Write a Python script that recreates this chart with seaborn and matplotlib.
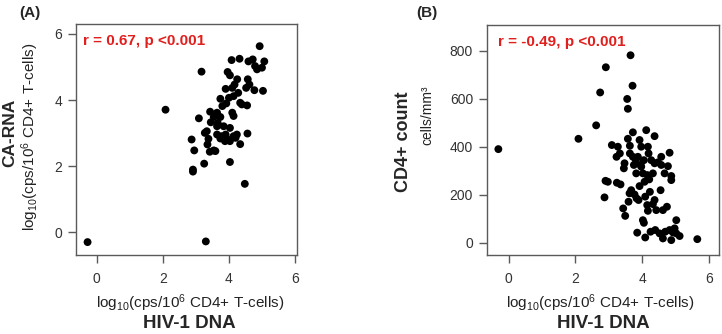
import matplotlib
matplotlib.use("Agg")
import matplotlib.pyplot as plt
import seaborn as sns
import pandas as pd

# Panel A: HIV-1 DNA vs CA-RNA
a_dna = [-0.28, 3.30, 2.08, 3.17, 4.48, 4.93, 2.87, 2.95, 2.91, 2.91, 3.25, 3.09, 4.03, 4.56,
         4.34, 4.08, 4.32, 4.59, 4.72, 4.79, 5.07, 5.00, 4.85, 4.77, 5.03, 3.96, 4.03, 4.25,
         4.57, 4.62, 4.52, 4.17, 4.10, 3.90, 4.28, 4.14, 4.00, 4.34, 4.55, 4.39, 3.74, 3.92,
         3.80, 4.10, 4.14, 3.43, 3.64, 3.54, 3.74, 3.66, 3.45, 3.84, 4.03, 3.64, 3.33, 3.27,
         3.64, 3.90, 4.14, 3.78, 3.96, 3.88, 4.03, 3.38, 3.35, 3.54, 3.42, 3.59, 4.20, 3.74, 4.24]
a_rna = [-0.29, -0.27, 3.71, 4.86, 1.47, 5.63, 2.81, 2.48, 1.90, 1.84, 2.08, 3.45, 2.13, 2.99,
         2.67, 5.21, 5.25, 5.17, 5.23, 5.03, 5.17, 4.98, 4.93, 4.30, 4.28, 4.85, 4.75, 4.63,
         4.63, 4.47, 4.37, 4.47, 4.37, 4.34, 4.22, 4.12, 4.07, 3.92, 3.84, 3.87, 4.04, 3.90,
         3.82, 3.62, 3.52, 3.65, 3.62, 3.49, 3.49, 3.31, 3.33, 3.21, 3.16, 3.21, 3.06, 3.01,
         2.96, 2.96, 2.91, 2.91, 2.81, 2.76, 2.76, 2.83, 2.66, 2.48, 2.44, 2.46, 2.86, 2.84, 2.96]

# Panel B: HIV-1 DNA vs CD4+ count
b_dna = [-0.31, 2.09, 2.62, 2.74, 2.91, 3.65, 3.71, 3.55, 3.57, 2.87, 2.90, 2.97, 3.09, 3.27,
         3.33, 3.23, 3.24, 3.35, 3.43, 3.49, 3.47, 3.45, 3.57, 3.63, 3.72, 3.63, 3.67, 3.59,
         3.77, 3.72, 3.75, 3.81, 3.87, 3.92, 3.97, 3.82, 3.95, 3.89, 3.85, 3.83, 4.02, 4.05,
         4.09, 4.09, 4.07, 4.15, 4.17, 4.12, 4.15, 4.17, 4.23, 4.21, 4.32, 4.27, 4.05, 4.37,
         4.37, 4.37, 4.32, 4.42, 4.25, 4.39, 4.52, 4.47, 4.57, 4.55, 4.62, 4.57, 4.67, 4.77,
         4.82, 4.74, 4.62, 4.69, 4.82, 4.87, 4.97, 4.92, 5.02, 5.12, 5.02, 4.87, 4.87, 5.65,
         3.97, 3.92, 4.19, 3.62, 4.02]
b_cd4 = [390, 433, 489, 626, 731, 781, 654, 599, 558, 189, 258, 254, 407, 400,
         372, 358, 250, 243, 143, 112, 331, 310, 433, 404, 460, 372, 219, 171,
         201, 358, 324, 344, 358, 428, 400, 289, 324, 178, 42, 185, 94, 83,
         22, 192, 254, 282, 400, 469, 157, 133, 212, 264, 289, 344, 344, 444,
         331, 178, 161, 136, 46, 53, 39, 335, 324, 219, 136, 358, 289, 319,
         375, 150, 18, 46, 53, 11, 60, 43, 39, 28, 94, 278, 261, 15,
         317, 236, 372, 206, 289]

ticks_x = [0, 2, 4, 6]
ticks_a = [0, 2, 4, 6]
ticks_b = [0, 200, 400, 600, 800]

sns.set_theme(style="white")
plt.rcParams['font.family'] = ['Liberation Sans', 'DejaVu Sans']
plt.rcParams['mathtext.fontset'] = 'custom'
plt.rcParams['mathtext.rm'] = 'Liberation Sans'
plt.rcParams['mathtext.it'] = 'Liberation Sans:italic'
plt.rcParams['mathtext.bf'] = 'Liberation Sans:bold'

fig = plt.figure(figsize=(7.22, 3.34), dpi=100)
axA = fig.add_axes([76/722, 1-255/334, (297-76)/722, (255-24)/334])
axB = fig.add_axes([487/722, 1-255/334, (719-487)/722, (255-25)/334])

dfA = pd.DataFrame({"dna": a_dna, "rna": a_rna})
dfB = pd.DataFrame({"dna": b_dna, "cd4": b_cd4})

sns.scatterplot(data=dfA, x="dna", y="rna", ax=axA, color="black", s=32, edgecolor="none", linewidth=0)
sns.scatterplot(data=dfB, x="dna", y="cd4", ax=axB, color="black", s=32, edgecolor="none", linewidth=0)

axA.set_xlim(-0.63, 6.06)
axA.set_ylim(-0.68, 6.3)
axA.set_xticks(ticks_x)
axA.set_yticks(ticks_a)
axB.set_xlim(-0.65, 6.3)
axB.set_ylim(-51, 907)
axB.set_xticks(ticks_x)
axB.set_yticks(ticks_b)

for ax in (axA, axB):
    ax.set_xlabel("")
    ax.set_ylabel("")
    for sp in ax.spines.values():
        sp.set_color("#5a5a5a")
        sp.set_linewidth(1.0)
    ax.tick_params(axis="both", which="both", direction="out", length=6, width=1,
                   color="#5a5a5a", labelcolor="#333333", labelsize=10, pad=4,
                   bottom=True, left=True)
    ax.tick_params(axis="x", pad=6)

axA.text(0.03, 0.955, "r = 0.67, p <0.001", transform=axA.transAxes, color="#e0201e",
         fontsize=11, fontweight="bold", va="top", ha="left")
axB.text(0.047, 0.955, "r = -0.49, p <0.001", transform=axB.transAxes, color="#e0201e",
         fontsize=11, fontweight="bold", va="top", ha="left")

logl = r"log$_{10}$(cps/10$^{6}$ CD4+ T-cells)"

fig.text(30/722, 1-13/334, "(A)", fontsize=11, fontweight="bold", ha="center", va="center")
fig.text(427/722, 1-13/334, "(B)", fontsize=11, fontweight="bold", ha="center", va="center")

fig.text(10/722, 1-133/334, "CA-RNA", rotation=90, fontsize=12.5, fontweight="bold", ha="center", va="center")
fig.text(30/722, 1-137/334, logl, rotation=90, fontsize=11, ha="center", va="center", color="#222222")
fig.text(190/722, 1-303/334, logl, fontsize=11, ha="center", va="center", color="#222222")
fig.text(189/722, 1-323/334, "HIV-1 DNA", fontsize=13.5, fontweight="bold", ha="center", va="center")

fig.text(404/722, 1-142/334, "CD4+ count", rotation=90, fontsize=13, fontweight="bold", ha="center", va="center")
fig.text(427/722, 1-115/334, "cells/mm³", rotation=90, fontsize=10, ha="center", va="center", color="#222222")
fig.text(600/722, 1-303/334, logl, fontsize=11, ha="center", va="center", color="#222222")
fig.text(603/722, 1-323/334, "HIV-1 DNA", fontsize=13.5, fontweight="bold", ha="center", va="center")

fig.savefig("out.png", dpi=100)
